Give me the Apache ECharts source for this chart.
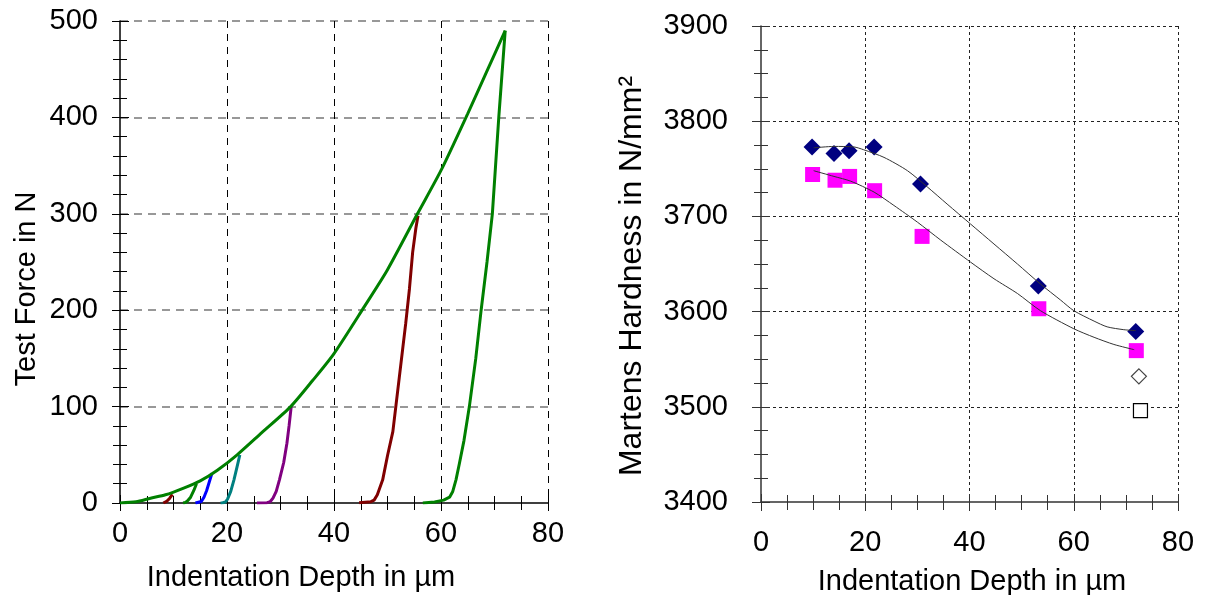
<!DOCTYPE html>
<html>
<head>
<meta charset="utf-8">
<script src="https://cdn.jsdelivr.net/npm/echarts@6/dist/echarts.min.js"></script>
<style>
  body { margin: 0; background: #fff; }
  #chart { width: 1214px; height: 595px; }
</style>
</head>
<body>
<div id="chart"></div>
<script>
// left chart: force vs depth, loading curve + unloading curves
const loadDepth = [0, 3, 5.7, 8.5, 11.9, 15, 18.2, 21.9, 26.5, 31.9, 36, 40, 45.7, 50, 55.6, 60, 65, 68.5, 72];
const loadForce = [0, 1.2, 5, 8.5, 15.5, 23, 34, 50, 73, 100, 127, 155, 204, 242, 300, 345, 404, 447, 490];

const un1Depth = [9.8, 9.3, 8.8, 8.1];
const un1Force = [9, 5, 2, 0];
const un2Depth = [14.3, 13.8, 13.2, 12.6, 12.2, 11.8];
const un2Force = [20, 13, 6, 2, 0.5, 0];
const un3Depth = [17.2, 16.7, 16.2, 15.7, 15.2, 14.9, 14.1];
const un3Force = [31, 22, 13, 6, 1.5, 0.3, 0];
const un4Depth = [22.4, 21.9, 21.3, 20.7, 20.1, 19.7, 19.2, 18.8];
const un4Force = [50, 38, 24, 12, 4, 1, 0.2, 0];
const un5Depth = [32.0, 31.6, 31.2, 30.6, 29.8, 29.2, 28.6, 28.1, 27.5, 25.6];
const un5Force = [100, 80, 62, 42, 24, 12, 5, 1.5, 0.3, 0];
const un6Depth = [55.7, 55.3, 54.7, 54.1, 53.4, 52.8, 52.2, 51.6, 51.0, 50.0, 49.1, 48.1, 47.5, 46.9, 44.7];
const un6Force = [298, 285, 260, 222, 186, 158, 130, 102, 74, 49, 24, 8.5, 3, 1.4, 0.3];
const un7Depth = [72.0, 71.4, 70.8, 70.2, 69.6, 68.6, 67.5, 66.5, 65.3, 64.3, 63.4, 62.8, 62.2, 61.6, 60.5, 58.8, 56.6];
const un7Force = [490, 445, 400, 350, 300, 250, 200, 150, 100, 65, 40, 24, 12, 6, 3, 1, 0];

// right chart: Martens hardness vs depth
const hmDepthA = [9.8, 14.0, 16.9, 21.7, 30.6, 53.2, 71.9];
const hmA = [3773, 3766, 3769, 3773, 3734, 3627, 3579];
const hmDepthB = [9.9, 14.2, 17.0, 21.8, 30.9, 53.3, 72.0];
const hmB = [3744, 3738, 3742, 3727, 3679, 3603, 3559];
const hmOpenDiamond = [[72.5, 3532]];
const hmOpenSquare = [[72.8, 3496]];

const fitADepth = [10.1, 14.0, 17.8, 19.7, 23.6, 28.1, 31.9, 35.7, 40.2, 44.7, 49.2, 53.6, 57.5, 60.0, 63.9, 66.4, 69.6, 71.9];
const fitA = [3772, 3773.5, 3773, 3770, 3762, 3748, 3731, 3713, 3692, 3671, 3650, 3629, 3612, 3601, 3590, 3584, 3581, 3580];
const fitBDepth = [10.1, 14.0, 17.2, 21.7, 25.5, 30.0, 34.5, 40.2, 44.7, 49.2, 53.6, 60.0, 63.9, 67.7, 71.6];
const fitB = [3748, 3742, 3737, 3725.5, 3711.5, 3694, 3675, 3652, 3634.5, 3619, 3601, 3582, 3573, 3565.5, 3560];

const pair = (xs, ys) => xs.map((x, i) => [x, ys[i]]);

const FONT = 'Liberation Sans, Arial, sans-serif';

const chart = echarts.init(document.getElementById('chart'));

const curve = (xs, ys, color) => ({
  type: 'line', xAxisIndex: 0, yAxisIndex: 0,
  data: pair(xs, ys), showSymbol: false, symbol: 'none',
  lineStyle: { color: color, width: 3 }
});

// helper axes that draw the inner half of the ticks
const innerX = (grid, color) => ({
  gridIndex: grid, type: 'value', min: 0, max: 80, interval: 20, position: 'bottom',
  axisLine: { show: false }, axisLabel: { show: false }, splitLine: { show: false },
  axisTick: { inside: true, length: 8, lineStyle: { color: color } },
  minorTick: { show: true, splitNumber: 4, length: 7, lineStyle: { color: color } }
});
const innerY = (grid, min, max, split, color) => ({
  gridIndex: grid, type: 'value', min: min, max: max, interval: 100, position: 'left',
  axisLine: { show: false }, axisLabel: { show: false }, splitLine: { show: false },
  axisTick: { inside: true, length: 9, lineStyle: { color: color } },
  minorTick: { show: true, splitNumber: split, length: 7, lineStyle: { color: color } }
});

chart.setOption({
  animation: false,
  grid: [
    { left: 120, top: 21, width: 428, height: 482 },
    { left: 761, top: 26, width: 417, height: 476 }
  ],
  xAxis: [
    {
      gridIndex: 0, type: 'value', min: 0, max: 80, interval: 20,
      axisLine: { onZero: false, lineStyle: { color: '#000', width: 1.5 } },
      axisTick: { length: 8, lineStyle: { color: '#000' } },
      minorTick: { show: true, splitNumber: 4, length: 7, lineStyle: { color: '#000' } },
      axisLabel: { margin: 16, fontSize: 29, color: '#000', fontFamily: FONT },
      splitLine: { show: true, showMinLine: false, lineStyle: { color: '#000', type: [7, 6], width: 1 } }
    },
    {
      gridIndex: 1, type: 'value', min: 0, max: 80, interval: 20,
      axisLine: { onZero: false, lineStyle: { color: '#333', width: 1.5 } },
      axisTick: { length: 9, lineStyle: { color: '#333' } },
      minorTick: { show: true, splitNumber: 4, length: 8, lineStyle: { color: '#333' } },
      axisLabel: { margin: 26, fontSize: 29, color: '#000', fontFamily: FONT },
      splitLine: { show: true, showMinLine: false, lineStyle: { color: '#222', type: [3, 3], width: 1 } }
    },
    innerX(0, '#000'),
    innerX(1, '#333')
  ],
  yAxis: [
    {
      gridIndex: 0, type: 'value', min: 0, max: 500, interval: 100,
      axisLine: { onZero: false, lineStyle: { color: '#000', width: 1.5 } },
      axisTick: { length: 8, lineStyle: { color: '#000' } },
      minorTick: { show: true, splitNumber: 5, length: 7, lineStyle: { color: '#000' } },
      axisLabel: { margin: 22, fontSize: 29, color: '#000', fontFamily: FONT },
      splitLine: { show: true, showMinLine: false, lineStyle: { color: '#777', type: [8, 6], width: 1.5 } }
    },
    {
      gridIndex: 1, type: 'value', min: 3400, max: 3900, interval: 100,
      axisLine: { onZero: false, lineStyle: { color: '#333', width: 1.5 } },
      axisTick: { length: 9, lineStyle: { color: '#333' } },
      minorTick: { show: true, splitNumber: 4, length: 7, lineStyle: { color: '#333' } },
      axisLabel: { margin: 33, fontSize: 29, color: '#000', fontFamily: FONT, formatter: v => String(v) },
      splitLine: { show: true, showMinLine: false, lineStyle: { color: '#222', type: [3, 3], width: 1 } }
    },
    innerY(0, 0, 500, 5, '#000'),
    innerY(1, 3400, 3900, 4, '#333')
  ],
  graphic: [
    { type: 'text', x: 27, y: 289, rotation: Math.PI / 2,
      style: { text: 'Test Force in N', font: '29px ' + FONT, fill: '#000', textAlign: 'center', textVerticalAlign: 'middle' } },
    { type: 'text', x: 301, y: 578,
      style: { text: 'Indentation Depth in µm', font: '29px ' + FONT, fill: '#000', textAlign: 'center', textVerticalAlign: 'middle' } },
    { type: 'text', x: 632, y: 276, rotation: Math.PI / 2,
      style: { text: 'Martens Hardness in N/mm²', font: '32px ' + FONT, fill: '#000', textAlign: 'center', textVerticalAlign: 'middle' } },
    { type: 'text', x: 972, y: 582,
      style: { text: 'Indentation Depth in µm', font: '29px ' + FONT, fill: '#000', textAlign: 'center', textVerticalAlign: 'middle' } }
  ],
  series: [
    curve(un1Depth, un1Force, '#800000'),
    curve(un2Depth, un2Force, '#008000'),
    curve(un3Depth, un3Force, '#0000ff'),
    curve(un4Depth, un4Force, '#008080'),
    curve(un5Depth, un5Force, '#800080'),
    curve(un6Depth, un6Force, '#800000'),
    curve(un7Depth, un7Force, '#008000'),
    Object.assign(curve(loadDepth, loadForce, '#008000'), { smooth: 0.25 }),
    {
      type: 'scatter', xAxisIndex: 1, yAxisIndex: 1, data: pair(hmDepthA, hmA),
      symbol: 'diamond', symbolSize: 17, itemStyle: { color: '#000080', opacity: 1 }
    },
    {
      type: 'scatter', xAxisIndex: 1, yAxisIndex: 1, data: pair(hmDepthB, hmB),
      symbol: 'rect', symbolSize: 15, itemStyle: { color: '#ff00ff', opacity: 1 }
    },
    {
      type: 'scatter', xAxisIndex: 1, yAxisIndex: 1, data: hmOpenDiamond,
      symbol: 'diamond', symbolSize: 15, itemStyle: { color: '#fff', borderColor: '#444', borderWidth: 1.2, opacity: 1 }
    },
    {
      type: 'scatter', xAxisIndex: 1, yAxisIndex: 1, data: hmOpenSquare,
      symbol: 'rect', symbolSize: 14, itemStyle: { color: '#fff', borderColor: '#000', borderWidth: 1.2, opacity: 1 }
    },
    {
      type: 'line', xAxisIndex: 1, yAxisIndex: 1, data: pair(fitADepth, fitA), smooth: 0.25,
      showSymbol: false, symbol: 'none', lineStyle: { color: '#333', width: 1 }
    },
    {
      type: 'line', xAxisIndex: 1, yAxisIndex: 1, data: pair(fitBDepth, fitB), smooth: 0.25,
      showSymbol: false, symbol: 'none', lineStyle: { color: '#333', width: 1 }
    }
  ]
});
</script>
</body>
</html>
